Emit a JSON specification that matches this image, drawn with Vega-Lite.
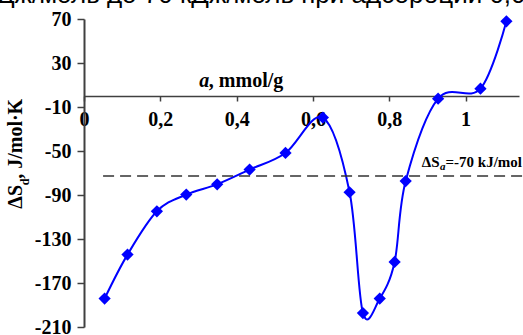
{
  "$schema": "https://vega.github.io/schema/vega-lite/v6.json",
  "autosize": "none",
  "width": 435,
  "height": 308,
  "padding": {"left": 84, "top": 19, "right": 4, "bottom": 8},
  "title": {
    "text": "Дж/моль до 70 кДж/моль при адсорбции 0,0",
    "anchor": "start",
    "frame": "group",
    "font": "Liberation Sans",
    "fontSize": 26,
    "fontWeight": "normal",
    "color": "#000000",
    "baseline": "alphabetic",
    "offset": 2,
    "dx": -87,
    "dy": 22
  },
  "datasets": {
    "points": [
      {"a": 0.054, "dS": -184.2},
      {"a": 0.114, "dS": -144.2},
      {"a": 0.191, "dS": -104.8},
      {"a": 0.268, "dS": -89.6},
      {"a": 0.349, "dS": -80.3},
      {"a": 0.434, "dS": -66.9},
      {"a": 0.528, "dS": -51.8},
      {"a": 0.626, "dS": -19.6},
      {"a": 0.696, "dS": -87.5},
      {"a": 0.731, "dS": -197.3},
      {"a": 0.775, "dS": -184.2},
      {"a": 0.814, "dS": -150.9},
      {"a": 0.843, "dS": -77.3},
      {"a": 0.928, "dS": -2.4},
      {"a": 1.039, "dS": 6.7},
      {"a": 1.107, "dS": 67.9}
    ],
    "threshold": [{"level": -72.7, "from": 0.05, "to": 1.16}]
  },
  "layer": [
    {
      "data": {"name": "points"},
      "mark": {"type": "line", "interpolate": "cardinal", "color": "#0000FF", "strokeWidth": 2, "clip": false},
      "encoding": {
        "x": {
          "field": "a",
          "type": "quantitative",
          "scale": {"domain": [0, 1.14], "nice": false, "zero": false},
          "axis": {
            "orient": "bottom",
            "offset": -231,
            "title": null,
            "values": [0, 0.1, 0.2, 0.3, 0.4, 0.5, 0.6, 0.7, 0.8, 0.9, 1, 1.1],
            "labelExpr": "round(datum.value*10)%2==0 ? replace(format(datum.value,'~g'),'.',',') : ''",
            "labelFont": "Liberation Serif",
            "labelFontWeight": "bold",
            "labelFontSize": 20,
            "labelColor": "#000000",
            "labelPadding": 8,
            "labelFlush": false,
            "labelOverlap": false,
            "domainColor": "#404040",
            "domainWidth": 1.5,
            "tickColor": "#404040",
            "tickWidth": 1.5,
            "tickSize": 5,
            "grid": false
          }
        },
        "y": {
          "field": "dS",
          "type": "quantitative",
          "scale": {"domain": [-210, 70], "nice": false, "zero": false},
          "axis": {
            "title": null,
            "values": [-210, -190, -170, -150, -130, -110, -90, -70, -50, -30, -10, 10, 30, 50, 70],
            "labelExpr": "(datum.value+210)%40==0 ? ''+datum.value : ''",
            "labelFont": "Liberation Serif",
            "labelFontWeight": "bold",
            "labelFontSize": 20,
            "labelColor": "#000000",
            "labelPadding": 6,
            "labelFlush": false,
            "labelOverlap": false,
            "domainColor": "#404040",
            "domainWidth": 2,
            "tickColor": "#404040",
            "tickWidth": 1.5,
            "tickSize": 7,
            "grid": false
          }
        }
      }
    },
    {
      "data": {"name": "points"},
      "mark": {"type": "point", "shape": "diamond", "filled": true, "color": "#0000FF", "size": 150, "opacity": 1},
      "encoding": {
        "x": {"field": "a", "type": "quantitative"},
        "y": {"field": "dS", "type": "quantitative"}
      }
    },
    {
      "data": {"name": "threshold"},
      "mark": {"type": "rule", "color": "#333333", "strokeWidth": 1.5, "strokeDash": [11, 6], "clip": false},
      "encoding": {
        "y": {"field": "level", "type": "quantitative"},
        "x": {"field": "from", "type": "quantitative"},
        "x2": {"field": "to"}
      }
    },
    {
      "data": {"values": [{"t": "ΔS"}]},
      "mark": {"type": "text", "font": "Liberation Serif", "fontWeight": "bold", "fontSize": 15, "align": "right", "baseline": "alphabetic", "color": "#000000"},
      "encoding": {"x": {"datum": 0.9318, "type": "quantitative"}, "y": {"datum": -64.5, "type": "quantitative"}, "text": {"field": "t", "type": "nominal"}}
    },
    {
      "data": {"values": [{"t": "a"}]},
      "mark": {"type": "text", "font": "Liberation Serif", "fontWeight": "bold", "fontStyle": "italic", "fontSize": 11, "align": "left", "baseline": "alphabetic", "color": "#000000"},
      "encoding": {"x": {"datum": 0.9331, "type": "quantitative"}, "y": {"datum": -67.1, "type": "quantitative"}, "text": {"field": "t", "type": "nominal"}}
    },
    {
      "data": {"values": [{"t": "=-70 kJ/mol"}]},
      "mark": {"type": "text", "font": "Liberation Serif", "fontWeight": "bold", "fontSize": 15, "align": "left", "baseline": "alphabetic", "color": "#000000"},
      "encoding": {"x": {"datum": 0.9475, "type": "quantitative"}, "y": {"datum": -64.5, "type": "quantitative"}, "text": {"field": "t", "type": "nominal"}}
    },
    {
      "data": {"values": [{"t": "a "}]},
      "mark": {"type": "text", "font": "Liberation Serif", "fontWeight": "bold", "fontStyle": "italic", "fontSize": 20, "align": "left", "baseline": "alphabetic", "color": "#000000"},
      "encoding": {"x": {"datum": 0.3023, "type": "quantitative"}, "y": {"datum": 8.2, "type": "quantitative"}, "text": {"field": "t", "type": "nominal"}}
    },
    {
      "data": {"values": [{"t": ", mmol/g"}]},
      "mark": {"type": "text", "font": "Liberation Serif", "fontWeight": "bold", "fontSize": 20, "align": "left", "baseline": "alphabetic", "color": "#000000"},
      "encoding": {"x": {"datum": 0.3272, "type": "quantitative"}, "y": {"datum": 8.2, "type": "quantitative"}, "text": {"field": "t", "type": "nominal"}}
    },
    {
      "data": {"values": [{"t": "ΔS"}]},
      "mark": {"type": "text", "font": "Liberation Serif", "fontWeight": "bold", "fontSize": 20, "angle": 270, "align": "left", "baseline": "alphabetic", "color": "#000000"},
      "encoding": {"x": {"datum": -0.1628, "type": "quantitative"}, "y": {"datum": -102.4, "type": "quantitative"}, "text": {"field": "t", "type": "nominal"}}
    },
    {
      "data": {"values": [{"t": "d"}]},
      "mark": {"type": "text", "font": "Liberation Serif", "fontWeight": "bold", "fontSize": 12, "angle": 270, "align": "left", "baseline": "alphabetic", "color": "#000000"},
      "encoding": {"x": {"datum": -0.1436, "type": "quantitative"}, "y": {"datum": -81.2, "type": "quantitative"}, "text": {"field": "t", "type": "nominal"}}
    },
    {
      "data": {"values": [{"t": ", J/mol·K"}]},
      "mark": {"type": "text", "font": "Liberation Serif", "fontWeight": "bold", "fontSize": 20, "angle": 270, "align": "left", "baseline": "alphabetic", "color": "#000000"},
      "encoding": {"x": {"datum": -0.1628, "type": "quantitative"}, "y": {"datum": -75.3, "type": "quantitative"}, "text": {"field": "t", "type": "nominal"}}
    }
  ],
  "config": {
    "view": {"stroke": null},
    "axis": {"grid": false}
  }
}
